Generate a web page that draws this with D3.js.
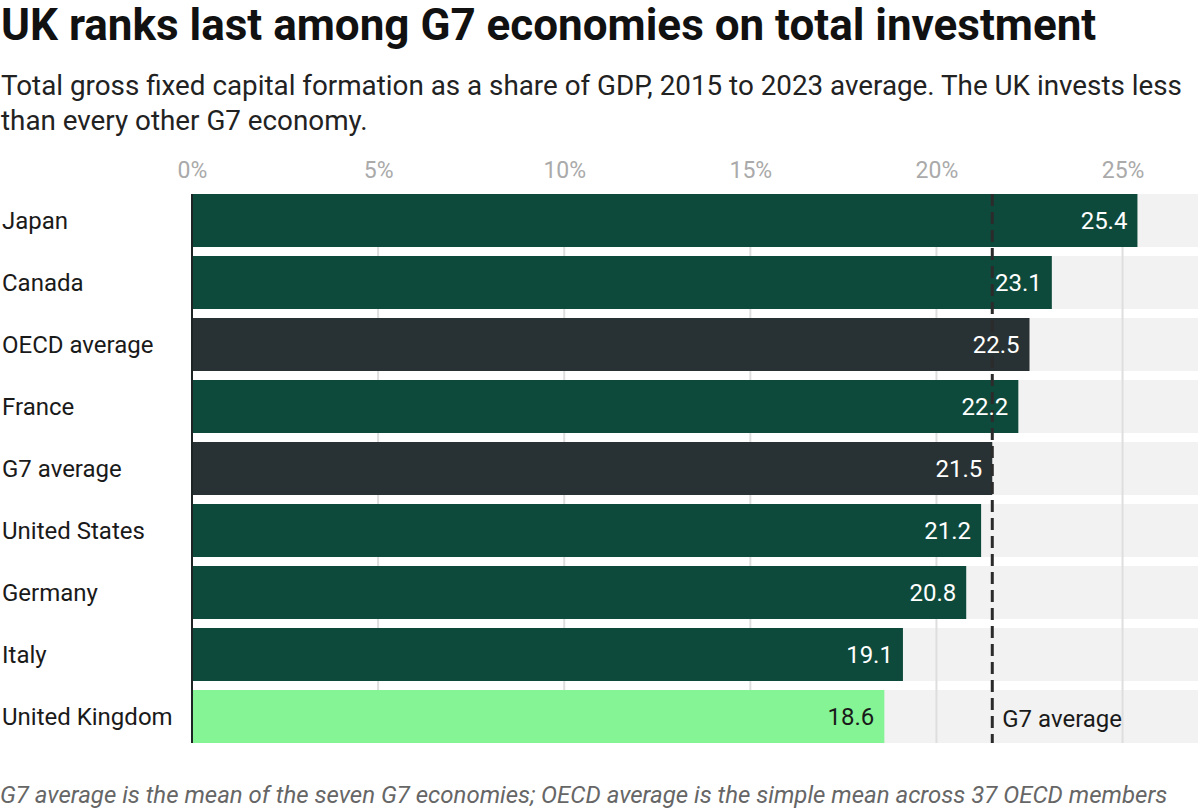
<!DOCTYPE html>
<html><head><meta charset="utf-8">
<script src="https://cdn.jsdelivr.net/npm/d3@7"></script>
<style>
body{margin:0;background:#fff;}
svg text{font-family:Roboto,"Noto Sans",sans-serif;}
</style></head>
<body><svg id="chart" width="1200" height="810"></svg>
<script>
const categories = ["Japan","Canada","OECD average","France","G7 average","United States","Germany","Italy","United Kingdom"];
const values = [25.4,23.1,22.5,22.2,21.5,21.2,20.8,19.1,18.6];
const groups = ["g7","g7","avg","g7","avg","g7","g7","g7","uk"];
const tickValues = [0,5,10,15,20,25];
const tickLabels = ["0%","5%","10%","15%","20%","25%"];
const g7Average = 21.5;

const colors = {g7:"#0e4a3b", avg:"#283133", uk:"#84f495"};
const svg = d3.select("#chart");

svg.append("text").attr("x",1).attr("y",40).attr("font-size",44).attr("font-weight",700).attr("fill","#111")
  .text("UK ranks last among G7 economies on total investment");
svg.append("text").attr("x",1).attr("y",95).attr("font-size",27.8).attr("fill","#222")
  .text("Total gross fixed capital formation as a share of GDP, 2015 to 2023 average. The UK invests less");
svg.append("text").attr("x",1).attr("y",130).attr("font-size",27.8).attr("fill","#222")
  .text("than every other G7 economy.");

const x = d3.scaleLinear().domain([0,27]).range([192,1197]);
const y = d3.scaleBand().domain(categories).range([194,743]).paddingInner(9/62).paddingOuter(0);

// row backgrounds
svg.append("g").selectAll("rect").data(categories).join("rect")
  .attr("x",x(0)).attr("width",x(27)-x(0)+1)
  .attr("y",d=>y(d)).attr("height",y.bandwidth())
  .attr("fill","#f2f2f2");

// gridlines
svg.append("g").selectAll("line").data(tickValues.slice(1)).join("line")
  .attr("x1",d=>x(d)).attr("x2",d=>x(d)).attr("y1",y.range()[0]).attr("y2",y.range()[1])
  .attr("stroke","#dedede").attr("stroke-width",2);

// axis labels
const axis = d3.axisTop(x).tickValues(tickValues).tickFormat((d,i)=>tickLabels[i]).tickSize(0).tickPadding(0);
const ax = svg.append("g").attr("transform","translate(0,178)").call(axis);
ax.select(".domain").remove();
ax.selectAll("text").attr("font-size",23).attr("fill","#aaa").attr("font-family","Roboto,sans-serif").attr("dy",0);

// bars
svg.append("g").selectAll("rect").data(values).join("rect")
  .attr("x",x(0)).attr("y",(d,i)=>y(categories[i]))
  .attr("width",d=>x(d)-x(0)).attr("height",y.bandwidth())
  .attr("fill",(d,i)=>colors[groups[i]]);

// left axis line
svg.append("line").attr("x1",x(0)).attr("x2",x(0)).attr("y1",y.range()[0]).attr("y2",y.range()[1])
  .attr("stroke","#1c2424").attr("stroke-width",2);

// G7 average dashed line
svg.append("line").attr("x1",x(g7Average)).attr("x2",x(g7Average)).attr("y1",y.range()[0]).attr("y2",y.range()[1])
  .attr("stroke","#2b2b2b").attr("stroke-width",3).attr("stroke-dasharray","12,6");
svg.append("text").attr("x",x(g7Average)+10).attr("y",y("United Kingdom")+y.bandwidth()/2+10)
  .attr("font-size",24).attr("fill","#1a1a1a").text("G7 average");

// value labels
svg.append("g").selectAll("text").data(values).join("text")
  .attr("x",d=>x(d)-10).attr("y",(d,i)=>y(categories[i])+y.bandwidth()/2+8)
  .attr("text-anchor","end").attr("font-size",24)
  .attr("fill",(d,i)=>groups[i]==="uk"?"#1a1a1a":"#fff")
  .text(d=>d.toFixed(1));

// category labels
svg.append("g").selectAll("text").data(categories).join("text")
  .attr("x",2).attr("y",d=>y(d)+y.bandwidth()/2+8)
  .attr("font-size",24).attr("fill","#1a1a1a").text(d=>d);

svg.append("text").attr("x",0).attr("y",803).attr("font-size",24).attr("font-style","italic").attr("fill","#666")
  .text("G7 average is the mean of the seven G7 economies; OECD average is the simple mean across 37 OECD members");
</script></body></html>
